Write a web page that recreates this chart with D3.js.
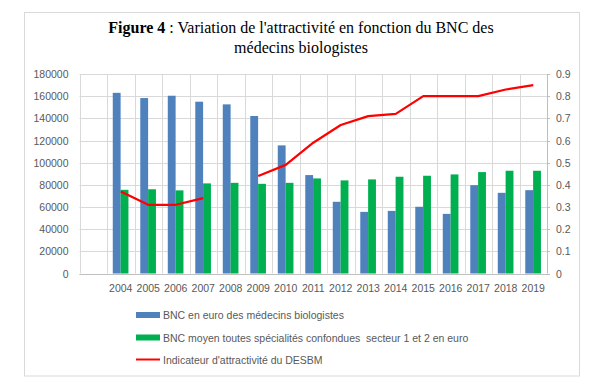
<!DOCTYPE html>
<html>
<head>
<meta charset="utf-8">
<script src="https://cdn.jsdelivr.net/npm/d3@7"></script>
<style>
  body { margin: 0; background: #fff; }
  svg { display: block; }
</style>
</head>
<body>
<div id="chart"></div>
<script>
// categories (first slot is empty in the original chart)
var years = ["", "2004", "2005", "2006", "2007", "2008", "2009", "2010", "2011",
             "2012", "2013", "2014", "2015", "2016", "2017", "2018", "2019"];
var bncBiologistes = [null, 163000, 158300, 160400, 155000, 152600, 142100, 115600, 88800,
                      64700, 55600, 56500, 60200, 53800, 79700, 72800, 75200];
var bncMoyen = [null, 75500, 76000, 75000, 81300, 81800, 80900, 81800, 85800,
                84000, 84900, 87300, 88200, 89400, 91500, 92700, 92700];
var attractivite = [null, 0.37, 0.31, 0.31, 0.34, null, 0.44, 0.49, 0.59,
                    0.67, 0.71, 0.72, 0.80, 0.80, 0.80, 0.83, 0.85];
var leftTicks = d3.range(0, 180001, 20000);
var rightTicks = d3.range(0, 10).map(function(i) { return i / 10; });
var legendLabels = ["BNC en euro des médecins biologistes",
                    "BNC moyen toutes spécialités confondues  secteur 1 et 2 en euro",
                    "Indicateur d'attractivité du DESBM"];

var width = 602, height = 386;
var margin = {left: 79.5, right: 602 - 547, top: 74, bottom: 386 - 273.5};
var blue = "#4f81bd", green = "#00b050", red = "#ff0000";
var grid = "#d9d9d9", txt = "#595959";
var font = "'Liberation Sans', Arial, sans-serif";

var svg = d3.select("#chart").append("svg")
    .attr("width", width)
    .attr("height", height);

// outer frame
svg.append("rect")
    .attr("x", 24.5).attr("y", 12.5)
    .attr("width", 555).attr("height", 363.5)
    .attr("fill", "#fff")
    .attr("stroke", "#d9d9d9");

// title
var title = svg.append("text")
    .attr("text-anchor", "middle")
    .style("font-family", "'Liberation Serif', 'Times New Roman', serif")
    .style("font-size", "16px")
    .attr("fill", "#000");
var l1 = title.append("tspan").attr("x", 301).attr("y", 33);
l1.append("tspan").style("font-weight", "bold").text("Figure 4");
l1.append("tspan").text(" : Variation de l'attractivité en fonction du BNC des");
title.append("tspan").attr("x", 301).attr("y", 53).text("médecins biologistes");

var x = d3.scaleBand()
    .domain(years.map(function(d, i) { return i; }))
    .range([margin.left, width - margin.right]);
var yL = d3.scaleLinear().domain([0, 180000]).range([height - margin.bottom, margin.top]);
var yR = d3.scaleLinear().domain([0, 0.9]).range([height - margin.bottom, margin.top]);

var g = svg.append("g");

// horizontal gridlines
g.selectAll(".hgrid")
    .data(leftTicks)
    .enter().append("line")
    .attr("x1", margin.left).attr("x2", width - margin.right)
    .attr("y1", function(d) { return Math.round(yL(d)) + 0.5; })
    .attr("y2", function(d) { return Math.round(yL(d)) + 0.5; })
    .attr("stroke", grid);

// vertical gridlines at band boundaries
var bounds = years.map(function(d, i) { return x(i); }).concat([width - margin.right]);
g.selectAll(".vgrid")
    .data(bounds)
    .enter().append("line")
    .attr("x1", function(d) { return Math.round(d) + 0.5; })
    .attr("x2", function(d) { return Math.round(d) + 0.5; })
    .attr("y1", margin.top).attr("y2", height - margin.bottom)
    .attr("stroke", grid);

// bars
var bw = x.bandwidth();
var barW = bw * 0.285;
var off = bw * 0.21;
g.selectAll(".blue")
    .data(bncBiologistes.map(function(v, i) { return {i: i, v: v}; }).filter(function(d) { return d.v != null; }))
    .enter().append("rect")
    .attr("x", function(d) { return x(d.i) + off; })
    .attr("width", barW)
    .attr("y", function(d) { return yL(d.v); })
    .attr("height", function(d) { return yL(0) - yL(d.v); })
    .attr("fill", blue);
g.selectAll(".green")
    .data(bncMoyen.map(function(v, i) { return {i: i, v: v}; }).filter(function(d) { return d.v != null; }))
    .enter().append("rect")
    .attr("x", function(d) { return x(d.i) + off + barW; })
    .attr("width", barW)
    .attr("y", function(d) { return yL(d.v); })
    .attr("height", function(d) { return yL(0) - yL(d.v); })
    .attr("fill", green);

// axes lines (bottom, right)
g.append("line")
    .attr("x1", margin.left).attr("x2", width - margin.right + 3)
    .attr("y1", Math.round(yL(0)) + 0.5).attr("y2", Math.round(yL(0)) + 0.5)
    .attr("stroke", "#bfbfbf");
g.append("line")
    .attr("x1", Math.round(width - margin.right) + 0.5).attr("x2", Math.round(width - margin.right) + 0.5)
    .attr("y1", margin.top).attr("y2", height - margin.bottom)
    .attr("stroke", "#bfbfbf");
g.selectAll(".rtick")
    .data(rightTicks)
    .enter().append("line")
    .attr("x1", width - margin.right).attr("x2", width - margin.right + 3)
    .attr("y1", function(d) { return Math.round(yR(d)) + 0.5; })
    .attr("y2", function(d) { return Math.round(yR(d)) + 0.5; })
    .attr("stroke", "#bfbfbf");

// red line
var line = d3.line()
    .defined(function(d) { return d.v != null; })
    .x(function(d) { return x(d.i) + bw / 2; })
    .y(function(d) { return yR(d.v); });
g.append("path")
    .datum(attractivite.map(function(v, i) { return {i: i, v: v}; }))
    .attr("d", line)
    .attr("fill", "none")
    .attr("stroke", red)
    .attr("stroke-width", 2.2)
    .attr("stroke-linejoin", "round");

// tick labels
var lab = svg.append("g")
    .style("font-family", font)
    .style("font-size", "10.5px")
    .attr("fill", txt);
lab.selectAll(".ll")
    .data(leftTicks)
    .enter().append("text")
    .attr("x", 68.5)
    .attr("y", function(d) { return yL(d) + 4; })
    .attr("text-anchor", "end")
    .text(function(d) { return d; });
lab.selectAll(".rl")
    .data(rightTicks)
    .enter().append("text")
    .attr("x", 556)
    .attr("y", function(d) { return yR(d) + 4; })
    .text(function(d) { return d; });
lab.selectAll(".xl")
    .data(years)
    .enter().append("text")
    .attr("x", function(d, i) { return x(i) + bw / 2; })
    .attr("y", 292)
    .attr("text-anchor", "middle")
    .text(function(d) { return d; });

// legend
var leg = svg.append("g")
    .style("font-family", font)
    .style("font-size", "10.5px")
    .attr("fill", txt);
var legY = [315, 337.5, 359.5];
[blue, green].forEach(function(c, i) {
    leg.append("rect")
        .attr("x", 136).attr("y", legY[i] - 3)
        .attr("width", 24).attr("height", 6)
        .attr("fill", c);
});
leg.append("line")
    .attr("x1", 136).attr("x2", 160)
    .attr("y1", legY[2]).attr("y2", legY[2])
    .attr("stroke", red).attr("stroke-width", 2);
leg.selectAll(".lt")
    .data(legendLabels)
    .enter().append("text")
    .attr("x", 163)
    .attr("y", function(d, i) { return legY[i] + 4; })
    .style("white-space", "pre")
    .text(function(d) { return d; });
</script>
</body>
</html>
